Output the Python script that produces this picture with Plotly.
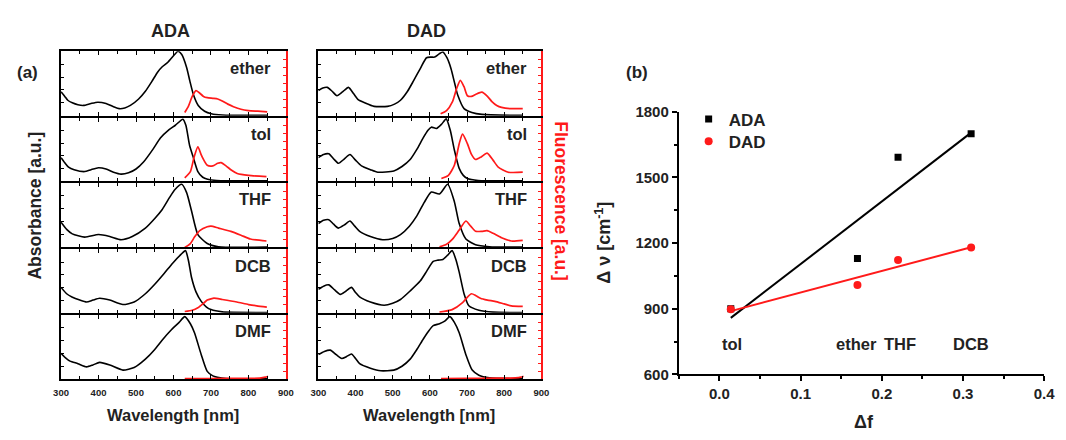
import plotly.graph_objects as go

# ---------------- data: panel (a) spectra (normalised) ----------------
solvents = ["ether", "tol", "THF", "DCB", "DMF"]
molecules = ["ADA", "DAD"]

ada_ether_abs_nm = [300, 310, 318, 330, 345, 360, 380, 398, 420, 440, 455, 470, 485, 507, 525, 542, 558, 570, 585, 603, 612, 622, 635, 644, 653, 666, 683, 701, 730, 850]
ada_ether_abs = [0.37, 0.30, 0.24, 0.20, 0.17, 0.16, 0.19, 0.21, 0.19, 0.14, 0.11, 0.12, 0.16, 0.26, 0.38, 0.53, 0.68, 0.76, 0.83, 0.95, 1.0, 0.95, 0.75, 0.53, 0.33, 0.16, 0.07, 0.03, 0.01, 0.005]
ada_ether_fl_nm = [630, 640, 650, 660, 668, 680, 690, 705, 718, 730, 745, 760, 780, 800, 825, 850]
ada_ether_fl = [0.05, 0.15, 0.30, 0.39, 0.36, 0.30, 0.28, 0.27, 0.26, 0.23, 0.18, 0.14, 0.10, 0.08, 0.07, 0.06]

ada_tol_abs_nm = [300, 310, 320, 335, 363, 380, 400, 420, 440, 460, 480, 500, 520, 545, 565, 586, 605, 625, 633, 643, 652, 665, 678, 691, 715, 750, 850]
ada_tol_abs = [0.37, 0.29, 0.22, 0.18, 0.15, 0.18, 0.21, 0.19, 0.14, 0.11, 0.13, 0.19, 0.30, 0.50, 0.68, 0.80, 0.88, 0.975, 0.88, 0.56, 0.39, 0.15, 0.06, 0.03, 0.01, 0.005, 0.005]
ada_tol_fl_nm = [630, 645, 655, 665, 675, 690, 705, 718, 727, 740, 755, 770, 800, 848]
ada_tol_fl = [0.05, 0.15, 0.38, 0.54, 0.40, 0.25, 0.24, 0.28, 0.29, 0.24, 0.17, 0.12, 0.09, 0.07]

ada_thf_abs_nm = [300, 315, 330, 363, 400, 430, 460, 490, 525, 550, 570, 590, 604, 622, 635, 648, 665, 690, 720, 850]
ada_thf_abs = [0.39, 0.28, 0.21, 0.16, 0.20, 0.17, 0.12, 0.17, 0.30, 0.45, 0.59, 0.78, 0.90, 0.98, 0.85, 0.57, 0.20, 0.06, 0.01, 0.005]
ada_thf_fl_nm = [630, 645, 656, 670, 690, 700, 720, 753, 780, 805, 848]
ada_thf_fl = [0.0, 0.06, 0.16, 0.26, 0.32, 0.33, 0.30, 0.25, 0.19, 0.13, 0.10]

ada_dcb_abs_nm = [300, 315, 329, 350, 368, 385, 403, 430, 465, 495, 525, 550, 575, 599, 620, 632, 640, 648, 660, 674, 688, 700, 730, 850]
ada_dcb_abs = [0.40, 0.30, 0.25, 0.20, 0.17, 0.20, 0.23, 0.20, 0.13, 0.17, 0.30, 0.45, 0.62, 0.79, 0.92, 0.98, 0.82, 0.56, 0.33, 0.18, 0.09, 0.05, 0.015, 0.005]
ada_dcb_fl_nm = [630, 650, 665, 680, 690, 700, 708, 730, 769, 800, 822, 849]
ada_dcb_fl = [0.02, 0.04, 0.08, 0.15, 0.20, 0.22, 0.23, 0.21, 0.17, 0.13, 0.11, 0.09]

ada_dmf_abs_nm = [300, 312, 324, 345, 368, 385, 403, 430, 465, 495, 525, 550, 569, 595, 615, 630, 645, 656, 674, 690, 705, 717, 740, 850]
ada_dmf_abs = [0.40, 0.33, 0.28, 0.24, 0.19, 0.22, 0.26, 0.22, 0.14, 0.18, 0.31, 0.46, 0.60, 0.77, 0.88, 0.97, 0.86, 0.72, 0.38, 0.12, 0.05, 0.03, 0.01, 0.005]
ada_dmf_fl_nm = [630, 700, 780, 830, 845, 852]
ada_dmf_fl = [0.01, 0.01, 0.012, 0.015, 0.03, 0.045]

dad_ether_abs_nm = [300, 312, 324, 337, 350, 365, 381, 395, 407, 425, 450, 486, 505, 521, 540, 556, 575, 591, 603, 613, 625, 635, 646, 657, 667, 675, 692, 713, 740, 850]
dad_ether_abs = [0.39, 0.43, 0.44, 0.38, 0.31, 0.37, 0.44, 0.34, 0.25, 0.20, 0.145, 0.145, 0.18, 0.24, 0.38, 0.54, 0.74, 0.90, 0.91, 0.91, 0.96, 0.99, 0.90, 0.73, 0.50, 0.32, 0.11, 0.05, 0.02, 0.005]
dad_ether_fl_nm = [629, 645, 661, 672, 682, 692, 701, 712, 723, 740, 755, 767, 780, 793, 819, 850]
dad_ether_fl = [0.03, 0.08, 0.22, 0.42, 0.55, 0.45, 0.31, 0.30, 0.33, 0.365, 0.30, 0.22, 0.16, 0.13, 0.11, 0.11]

dad_tol_abs_nm = [300, 314, 328, 341, 354, 370, 385, 400, 416, 440, 460, 503, 525, 547, 565, 582, 595, 604, 618, 632, 644, 655, 666, 679, 690, 701, 730, 850]
dad_tol_abs = [0.37, 0.42, 0.43, 0.35, 0.28, 0.35, 0.42, 0.33, 0.24, 0.18, 0.14, 0.16, 0.23, 0.34, 0.50, 0.68, 0.80, 0.85, 0.83, 0.90, 0.98, 0.80, 0.49, 0.20, 0.09, 0.04, 0.01, 0.005]
dad_tol_fl_nm = [631, 650, 666, 679, 688, 701, 712, 723, 738, 754, 770, 784, 811, 850]
dad_tol_fl = [0.04, 0.09, 0.25, 0.59, 0.74, 0.59, 0.42, 0.34, 0.38, 0.44, 0.33, 0.22, 0.14, 0.14]

dad_thf_abs_nm = [300, 314, 328, 341, 354, 370, 385, 398, 411, 440, 473, 500, 521, 545, 565, 585, 604, 626, 648, 666, 679, 697, 723, 760, 850]
dad_thf_abs = [0.37, 0.42, 0.43, 0.36, 0.30, 0.35, 0.41, 0.33, 0.25, 0.17, 0.12, 0.14, 0.20, 0.33, 0.49, 0.70, 0.86, 0.83, 0.98, 0.71, 0.37, 0.13, 0.04, 0.01, 0.005]
dad_thf_fl_nm = [626, 645, 661, 679, 697, 710, 723, 740, 754, 770, 793, 819, 850]
dad_thf_fl = [0.01, 0.05, 0.13, 0.27, 0.41, 0.33, 0.25, 0.25, 0.26, 0.22, 0.15, 0.10, 0.11]

dad_dcb_abs_nm = [300, 314, 328, 344, 359, 374, 389, 400, 411, 440, 477, 500, 521, 548, 574, 592, 609, 622, 635, 648, 660, 670, 679, 692, 705, 732, 770, 850]
dad_dcb_abs = [0.37, 0.42, 0.44, 0.36, 0.29, 0.34, 0.40, 0.32, 0.25, 0.17, 0.12, 0.15, 0.21, 0.35, 0.50, 0.66, 0.81, 0.83, 0.84, 0.91, 0.98, 0.84, 0.64, 0.30, 0.11, 0.04, 0.01, 0.005]
dad_dcb_fl_nm = [626, 660, 688, 700, 712, 724, 736, 755, 775, 800, 819, 850]
dad_dcb_fl = [0.01, 0.05, 0.16, 0.24, 0.30, 0.27, 0.23, 0.20, 0.18, 0.14, 0.11, 0.10]

dad_dmf_abs_nm = [300, 316, 332, 348, 363, 376, 389, 400, 411, 440, 468, 503, 525, 547, 565, 582, 596, 609, 626, 640, 654, 666, 679, 697, 714, 732, 760, 850]
dad_dmf_abs = [0.38, 0.43, 0.45, 0.38, 0.32, 0.35, 0.39, 0.32, 0.24, 0.17, 0.13, 0.14, 0.20, 0.31, 0.46, 0.62, 0.74, 0.83, 0.86, 0.90, 0.97, 0.88, 0.72, 0.38, 0.14, 0.06, 0.02, 0.005]
dad_dmf_fl_nm = [630, 700, 780, 830, 845, 852]
dad_dmf_fl = [0.01, 0.012, 0.014, 0.018, 0.03, 0.045]

wl_ticks = [300, 400, 500, 600, 700, 800, 900]

# ---------------- data: panel (b) Lippert-Mataga ----------------
delta_f = [0.014, 0.17, 0.22, 0.31]
ada_shift = [900, 1130, 1593, 1700]
dad_shift = [897, 1008, 1123, 1180]
fit_x = [0.014, 0.31]
ada_fit = [858, 1705]
dad_fit = [889, 1181]
solvent_f = [0.015, 0.169, 0.222, 0.31]
solvent_names = ["tol", "ether", "THF", "DCB"]

# ---------------- layout helpers ----------------
W, H = 1066, 440
def px(x):
    return x / W
def py(y):
    return 1 - y / H

panel_x = {"ADA": (54, 283), "DAD": (316, 543)}
bounds = [43, 112, 180, 249, 317, 386]

spectra = {
    ("ADA", "ether"): (ada_ether_abs_nm, ada_ether_abs, ada_ether_fl_nm, ada_ether_fl),
    ("ADA", "tol"): (ada_tol_abs_nm, ada_tol_abs, ada_tol_fl_nm, ada_tol_fl),
    ("ADA", "THF"): (ada_thf_abs_nm, ada_thf_abs, ada_thf_fl_nm, ada_thf_fl),
    ("ADA", "DCB"): (ada_dcb_abs_nm, ada_dcb_abs, ada_dcb_fl_nm, ada_dcb_fl),
    ("ADA", "DMF"): (ada_dmf_abs_nm, ada_dmf_abs, ada_dmf_fl_nm, ada_dmf_fl),
    ("DAD", "ether"): (dad_ether_abs_nm, dad_ether_abs, dad_ether_fl_nm, dad_ether_fl),
    ("DAD", "tol"): (dad_tol_abs_nm, dad_tol_abs, dad_tol_fl_nm, dad_tol_fl),
    ("DAD", "THF"): (dad_thf_abs_nm, dad_thf_abs, dad_thf_fl_nm, dad_thf_fl),
    ("DAD", "DCB"): (dad_dcb_abs_nm, dad_dcb_abs, dad_dcb_fl_nm, dad_dcb_fl),
    ("DAD", "DMF"): (dad_dmf_abs_nm, dad_dmf_abs, dad_dmf_fl_nm, dad_dmf_fl),
}

FONT = "Liberation Sans"
RED = "#ff1a1a"
TXT = "#222"
fig = go.Figure()
layout = {}
annotations = []

p = 0
for mol in molecules:
    x0, x1 = panel_x[mol]
    for r, solv in enumerate(solvents):
        xi = p + 1
        yi = 2 * p + 1
        yj = 2 * p + 2
        xname = "x" if xi == 1 else f"x{xi}"
        yname = "y" if yi == 1 else f"y{yi}"
        y2name = f"y{yj}"
        a_nm, a_v, f_nm, f_v = spectra[(mol, solv)]
        fig.add_trace(go.Scatter(x=a_nm, y=a_v, mode="lines", xaxis=xname, yaxis=yname,
                                 line=dict(color="black", width=1.6, shape="spline", smoothing=0.6),
                                 showlegend=False, hoverinfo="skip"))
        fig.add_trace(go.Scatter(x=f_nm, y=f_v, mode="lines", xaxis=xname, yaxis=y2name,
                                 line=dict(color=RED, width=1.7, shape="spline", smoothing=0.6),
                                 showlegend=False, hoverinfo="skip"))
        bottom = r == len(solvents) - 1
        top_px = bounds[r] + 1
        bot_px = bounds[r + 1] - 1
        layout["xaxis" if xi == 1 else f"xaxis{xi}"] = dict(
            domain=[px(x0), px(x1)], anchor=yname, range=[300, 900],
            showline=True, linecolor="black", linewidth=2, mirror="ticks",
            ticks="inside", ticklen=4, tickwidth=1, tickcolor="black",
            tickvals=wl_ticks, showticklabels=bottom, ticklabelstandoff=3,
            minor=dict(ticks="inside", ticklen=3, dtick=50, tick0=300, tickcolor="black", tickwidth=1),
            tickfont=dict(family=FONT, size=9.5, weight="bold", color=TXT),
            showgrid=False, zeroline=False, fixedrange=True)
        layout["yaxis" if yi == 1 else f"yaxis{yi}"] = dict(
            domain=[py(bot_px), py(top_px)], anchor=xname, range=[0, 1.0],
            showline=True, linecolor="black", linewidth=2,
            ticks="inside", ticklen=3, tickcolor="black", dtick=0.2, tick0=0,
            showticklabels=False, showgrid=False, zeroline=False)
        layout[f"yaxis{yj}"] = dict(
            overlaying=yname, side="right", anchor=xname, range=[0, 1.0],
            showline=True, linecolor=RED, linewidth=2,
            ticks="inside", ticklen=3, tickcolor=RED, dtick=0.125, tick0=0,
            showticklabels=False, showgrid=False, zeroline=False)
        annotations.append(dict(text=solv, x=px(x1 - 13), y=py(bounds[r] + 18),
                                xref="paper", yref="paper", xanchor="right", yanchor="middle",
                                showarrow=False, font=dict(family=FONT, size=16.5, weight="bold", color=TXT)))
        p += 1

# ---------------- panel (b) ----------------
bx = "x11"
by = "y21"
fig.add_trace(go.Scatter(x=fit_x, y=ada_fit, mode="lines", xaxis=bx, yaxis=by,
                         line=dict(color="black", width=2), showlegend=False, hoverinfo="skip"))
fig.add_trace(go.Scatter(x=fit_x, y=dad_fit, mode="lines", xaxis=bx, yaxis=by,
                         line=dict(color=RED, width=2), showlegend=False, hoverinfo="skip"))
fig.add_trace(go.Scatter(x=delta_f, y=ada_shift, mode="markers", xaxis=bx, yaxis=by, name="ADA",
                         legend="legend", marker=dict(symbol="square", size=7, color="black")))
fig.add_trace(go.Scatter(x=delta_f, y=dad_shift, mode="markers", xaxis=bx, yaxis=by, name="DAD",
                         legend="legend2", marker=dict(symbol="circle", size=8, color=RED)))

layout["xaxis11"] = dict(domain=[px(683), px(1055)], anchor=by, range=[-0.05, 0.4],
                         showline=True, linecolor="black", linewidth=2,
                         ticks="outside", ticklen=5, tickwidth=1.5, tickcolor="black",
                         dtick=0.1, tick0=0, tickformat=".1f",
                         minor=dict(ticks="outside", ticklen=3, dtick=0.05, tick0=0, tickcolor="black"),
                         tickfont=dict(family=FONT, size=15, weight="bold", color=TXT),
                         showgrid=False, zeroline=False)
layout["yaxis21"] = dict(domain=[py(380), py(107)], anchor=bx, range=[600, 1800],
                         showline=True, linecolor="black", linewidth=2,
                         ticks="outside", ticklen=5, tickwidth=1.5, tickcolor="black",
                         dtick=300, tick0=600,
                         minor=dict(ticks="outside", ticklen=3, dtick=150, tick0=600, tickcolor="black"),
                         tickfont=dict(family=FONT, size=15, weight="bold", color=TXT),
                         showgrid=False, zeroline=False)

for f, nm in zip(solvent_f, solvent_names):
    annotations.append(dict(text=nm, x=f, y=740, xref="x11", yref="y21", showarrow=False,
                            xanchor="center", yanchor="middle",
                            font=dict(family=FONT, size=16.5, weight="bold", color=TXT)))

def lab(text, x, y, size, color=TXT, angle=0, bold=True):
    annotations.append(dict(text=text, x=px(x), y=py(y), xref="paper", yref="paper",
                            showarrow=False, xanchor="center", yanchor="middle", textangle=angle,
                            font=dict(family=FONT, size=size, color=color,
                                      weight="bold" if bold else "normal")))

lab("ADA", 165, 23, 18)
lab("DAD", 426, 23, 18)
lab("(a)", 20, 66, 17)
lab("(b)", 640, 66, 17)
lab("Wavelength [nm]", 168, 422, 16.5)
lab("Wavelength [nm]", 429, 422, 16.5)
lab("Absorbance [a.u.]", 28, 205, 17.5, angle=-90)
lab("Fluorescence [a.u.]", 563, 200, 17.5, color=RED, angle=90)
lab("Δf", 872, 430, 18)
lab("Δ ν [cm<sup>-1</sup>]", 606, 243, 18, angle=-90)

leg_common = dict(xanchor="left", yanchor="middle", bgcolor="rgba(0,0,0,0)", borderwidth=0,
                  font=dict(family=FONT, size=17, weight="bold", color=TXT))

fig.update_layout(**layout)
fig.update_layout(
    width=W, height=H, margin=dict(l=0, r=0, t=0, b=0),
    paper_bgcolor="white", plot_bgcolor="white",
    annotations=annotations,
    legend=dict(x=px(693), y=py(115), **leg_common),
    legend2=dict(x=px(693), y=py(138), **leg_common),
    showlegend=True,
)

fig.write_html("out.html")
